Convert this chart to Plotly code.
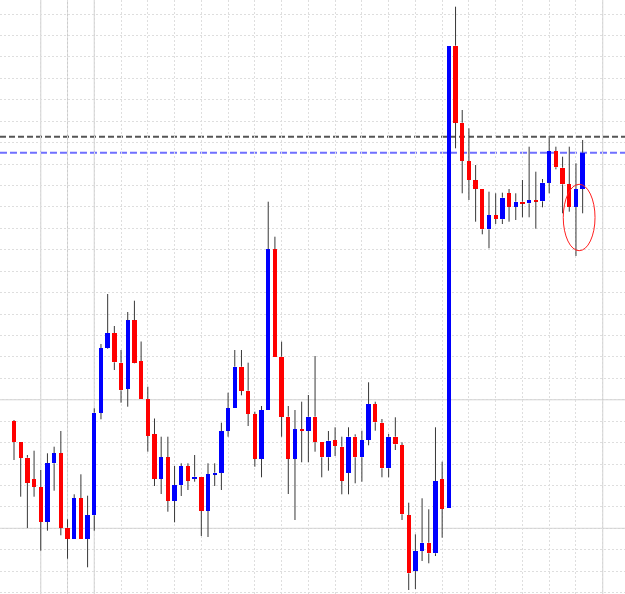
import plotly.graph_objects as go

# OHLC values (price levels) for 86 candles
opens = [173, 151.7, 136.3, 115, 107, 72.3, 130.7, 140.7, 66.3, 55.3,
         95.7, 55.3, 78.7, 181.3, 246, 261, 231.3, 205.3, 273.7, 233,
         195, 160, 115.3, 136.7, 93.3, 108.7, 128, 115.7, 116.7, 83.3,
         119.7, 121.3, 163.3, 185.7, 227.3, 203.3, 180, 135.3, 184, 344.7,
         237.3, 177.3, 135.3, 164.7, 163.3, 177.3, 152, 136.7, 154, 147.3,
         121.3, 157.3, 136.7, 154, 190, 171.3, 125.7, 157.3, 149, 78.7,
         23.3, 43, 51.3, 40.7, 115, 86, 548.3, 471.3, 433, 413.7,
         405, 364.7, 379, 374.7, 400.7, 387.3, 392.3, 390.7, 394, 392.7,
         411.3, 443, 426.3, 409.7, 387.3, 405]
highs = [174, 152, 139, 143.3, 124, 140.7, 147.3, 163, 74.7, 99.7,
         119.7, 98.3, 185.7, 250, 300, 268, 244, 282, 293.3, 252.5,
         207.3, 175.5, 157.3, 157.3, 128, 130.7, 130.7, 139, 116.7, 130.7,
         130.7, 171.3, 201.3, 244, 244, 231.3, 182.3, 188, 392.3, 357.3,
         252.3, 188, 184, 192.3, 199, 238, 152, 163, 166.7, 157.3,
         166.7, 159.7, 163.3, 211.7, 192.3, 175, 160, 176.7, 151.7, 91.3,
         59.7, 95.7, 84.7, 166.7, 132.3, 548.3, 587.3, 484, 465.7, 429,
         405, 402.3, 400.7, 401.3, 405, 400.7, 414, 447.3, 422.3, 415,
         458, 447.3, 437.3, 447.3, 430.7, 454]
lows = [134, 97.3, 66, 97.3, 43.3, 63.3, 103.3, 58.7, 35.3, 55.3,
        54.7, 26.7, 63.3, 174.7, 245.3, 224, 191.3, 187.3, 230.7, 195,
        142.3, 108, 100, 82.3, 71.7, 98, 104, 112.3, 58, 57,
        108, 104, 157.3, 185.7, 198.7, 168, 127.3, 116.7, 184, 237.3,
        157.3, 100, 74, 131.7, 131.7, 142.3, 116.7, 123.3, 138, 99.7,
        99.7, 110.7, 112.3, 148.7, 163.3, 116.7, 116.7, 144, 74, 4,
        5, 33, 30.7, 38, 56.3, 86, 445.7, 400.7, 394, 372.3,
        359.7, 345.7, 370, 370, 372.3, 374, 376.7, 376.7, 365.3, 386.7,
        400.7, 424.7, 380.7, 382.3, 338, 380.7]
closes = [152, 136.3, 111.3, 107.3, 72.3, 130.7, 140.7, 66.3, 55.3, 95.7,
          54.7, 78.7, 181.3, 245.7, 261, 231.7, 203.7, 273.7, 231.3, 195,
          158, 115.3, 136.7, 93.3, 108.7, 128, 113.3, 117.3, 83.3, 119.7,
          121.3, 162.7, 185.7, 227.3, 203.3, 180, 135.3, 184, 344.7, 237.3,
          177.3, 135.3, 164.7, 163, 177.3, 152.3, 136.7, 153.3, 148, 113.3,
          157.3, 136.7, 154, 190, 171.7, 125.7, 157.3, 149.7, 79.7, 20.7,
          43, 51.3, 40.7, 113, 85.3, 548.3, 471.3, 433.3, 414, 405.3,
          364.7, 379, 375, 396.3, 387.3, 392.3, 390.7, 394, 392.7, 411.3,
          443, 426.7, 409.7, 387.3, 405, 441.3]

level_black = 457.3
level_blue = 441.3
ellipse_x = [82.1, 86.85]
ellipse_y = [343.3, 409.7]

UP = "#0000ff"
DOWN = "#ff0000"
WICK = "#383838"

n = len(opens)
xs = list(range(n))

# wick segments (outside body)
wx, wy = [], []
for i in xs:
    top = max(opens[i], closes[i])
    bot = min(opens[i], closes[i])
    if highs[i] > top:
        wx += [i, i, None]
        wy += [highs[i], top, None]
    if lows[i] < bot:
        wx += [i, i, None]
        wy += [bot, lows[i], None]

bases = [min(o, c) for o, c in zip(opens, closes)]
heights = [max(abs(c - o), 1.2) for o, c in zip(opens, closes)]
colors = [UP if c >= o else DOWN for o, c in zip(opens, closes)]

fig = go.Figure()
fig.add_trace(go.Bar(x=xs, y=heights, base=bases, width=0.65,
                     marker=dict(color=colors, line=dict(width=0)),
                     hoverinfo="skip", showlegend=False))
fig.add_trace(go.Scatter(x=wx, y=wy, mode="lines",
                         line=dict(color=WICK, width=1),
                         hoverinfo="skip", showlegend=False))

xgrid = [4 * k for k in range(1, 23)]
ygrid = [580 - 21.43 * k for k in range(0, 28)]

shapes = []
for xv in [4, 8, 12, 88]:
    shapes.append(dict(type="line", xref="x", yref="paper", x0=xv, x1=xv, y0=0, y1=1,
                       line=dict(color="#cccccc", width=1), layer="below"))
for k in [18, 24]:
    yv = ygrid[k]
    shapes.append(dict(type="line", xref="paper", yref="y", x0=0, x1=1, y0=yv, y1=yv,
                       line=dict(color="#cccccc", width=1), layer="below"))
shapes.append(dict(type="line", xref="paper", yref="y", x0=0, x1=1,
                   y0=level_black, y1=level_black,
                   line=dict(color="#555555", width=2, dash="6px,3px"), layer="below"))
shapes.append(dict(type="line", xref="paper", yref="y", x0=0, x1=1,
                   y0=level_blue, y1=level_blue,
                   line=dict(color="#7070ff", width=2, dash="7px,3px"), layer="below"))
shapes.append(dict(type="circle", xref="x", yref="y",
                   x0=ellipse_x[0], x1=ellipse_x[1], y0=ellipse_y[0], y1=ellipse_y[1],
                   line=dict(color="#ff2020", width=1), layer="above"))

fig.update_layout(
    width=625, height=594,
    margin=dict(l=0, r=0, t=0, b=0),
    paper_bgcolor="white", plot_bgcolor="white",
    barmode="overlay", bargap=0,
    shapes=shapes,
    showlegend=False,
    xaxis=dict(range=[-2.093, 91.33], tickvals=xgrid, showticklabels=False,
               showgrid=True, gridcolor="#dedede", griddash="2px,2px", gridwidth=1,
               zeroline=False, showline=False, ticks="", fixedrange=True),
    yaxis=dict(range=[0, 594], tickvals=ygrid, showticklabels=False,
               showgrid=True, gridcolor="#dedede", griddash="2px,2px", gridwidth=1,
               zeroline=False, showline=False, ticks="", fixedrange=True),
)

fig.write_html("out.html", config={"displayModeBar": False})
